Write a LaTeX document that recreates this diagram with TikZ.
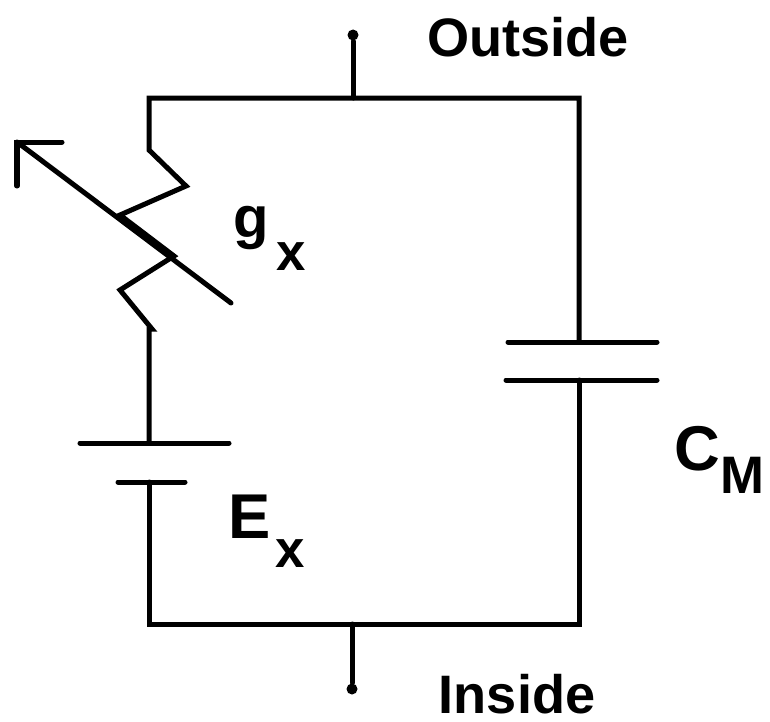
\documentclass[tikz,border=0pt]{standalone}
\usepackage{fontspec}
\setmainfont{Liberation Sans}
\tikzset{
  wire/.style={line width=0.05cm, line cap=round, line join=miter},
  labeltext/.style={inner sep=0pt, anchor=base, font=\bfseries\fontsize{15.4}{17}\selectfont},
  biglabel/.style={inner sep=0pt, anchor=base west, font=\bfseries\fontsize{18}{20}\selectfont},
  glabel/.style={biglabel, font=\bfseries\fontsize{16.5}{18}\selectfont},
  sublabel/.style={inner sep=0pt, anchor=base west, font=\bfseries\fontsize{15}{17}\selectfont},
  terminal/.style={circle, fill, inner sep=0pt, minimum size=0.11cm}
}

\begin{document}
\begin{tikzpicture}[x=0.01cm, y=-0.01cm]
\useasboundingbox (0,0) rectangle (770,721);
% terminals
\node[terminal] (topdot) at (353,35) {};
\node[terminal] (botdot) at (352,689) {};
\coordinate (topmid) at (353,98);
\coordinate (botmid) at (352,624);
\draw[wire] (topdot) -- (topmid);
\draw[wire] (botmid) -- (botdot);
% left branch, top to bottom
\draw[wire] (149,443) -- (149,329) -- (152,329) -- (120,290) -- (174,256) -- (120,215) -- (186,186)
  -- (149,150) -- (149,98) -- (579,98) -- (579,342);
\draw[wire] (579,380) -- (579,624) -- (149,624) -- (149,482);
% battery
\draw[wire] (80,443) -- (229,443);
\draw[wire] (118,482) -- (185,482);
% capacitor
\draw[wire] (508,342) -- (657,342);
\draw[wire] (506,380) -- (657,380);
% variable arrow
\draw[wire] (231,303) -- (17,142);
\draw[wire] (62,142) -- (17,142) -- (17,186);
% labels
\node[labeltext] (outside) at (528,56) {Outside};
\node[labeltext] (inside) at (517,713) {Inside};
\node[glabel] (g) at (233,237) {g};
\node[sublabel] (gx) at (276,270) {x};
\node[biglabel] (E) at (228,538) {E};
\node[sublabel] (Ex) at (275,567) {x};
\node[biglabel] (C) at (674,470) {C};
\node[sublabel] (CM) at (720,493) {M};
\end{tikzpicture}
\end{document}
